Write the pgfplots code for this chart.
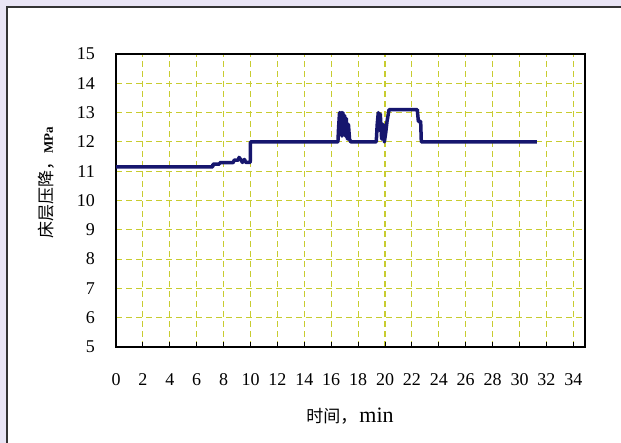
\documentclass[border=0pt]{standalone}
\usepackage{pgfplots}
\pgfplotsset{compat=1.18}
\usepackage{fontspec}
\setmainfont{Liberation Serif}
\newfontfamily\cjk{Noto Sans CJK SC}
\definecolor{bgl}{HTML}{E9E5F5}
\definecolor{gridc}{HTML}{C8CC30}
\definecolor{navy}{HTML}{16166E}
\pgfplotstableread{
x y
0 11.15
7.2 11.15
7.2 11.24
7.7 11.24
7.7 11.29
8.7 11.29
8.8 11.38
9.1 11.38
9.15 11.47
9.3 11.38
9.4 11.30
9.55 11.40
9.65 11.30
9.98 11.30
10.0 12.0
16.5 12.0
16.55 12.5
16.62 13.0
16.68 12.3
16.74 13.0
16.80 12.2
16.86 13.0
16.94 12.4
17.0 12.9
17.06 12.2
17.12 12.8
17.2 12.1
17.28 12.6
17.36 12.1
17.45 12.0
19.35 12.0
19.42 12.6
19.5 13.0
19.58 12.4
19.65 12.95
19.75 12.1
19.85 12.6
19.95 12.0
20.05 12.3
20.15 12.7
20.3 13.1
22.4 13.1
22.48 12.7
22.65 12.7
22.7 12.0
31.3 12.0
}\datatable
\begin{document}
\begin{tikzpicture}[x=1bp,y=1bp]
\useasboundingbox (0,0) rectangle (621,443);
\fill[bgl] (0,0) rectangle (621,443);
\fill[white] (7,0) rectangle (621,436);
\draw[line width=1.5bp, black!80] (7,0) -- (7,436) -- (621,436);
\begin{axis}[
  at={(116bp,96bp)}, anchor=south west,
  scale only axis, width=469bp, height=293bp,
  xmin=0, xmax=34.87, ymin=5, ymax=15,
  xtick={0,2,...,34}, ytick={5,6,...,15},
  /pgf/number format/assume math mode=true,
  grid=major,
  major grid style={gridc, line width=1.1bp, dash pattern=on 6bp off 4bp},
  axis line style={line width=1.6bp, black},
  tick align=inside,
  xtick pos=bottom, ytick pos=left,
  xtick style={black, line width=1bp},
  major tick length=5bp,
  ytick style={draw=none},
  xticklabel style={font=\fontsize{18bp}{18bp}\selectfont, anchor=base, inner sep=0pt, yshift=-38.5bp},
  yticklabel style={font=\fontsize{18bp}{18bp}\selectfont, anchor=east, inner sep=0pt, xshift=-21bp},
]
\addplot[navy, line width=3.5bp, line join=round, mark=none] table[x=x,y=y] {\datatable};
\end{axis}
\node[rotate=90, inner sep=0pt] at (46.7,260.5) {\cjk\fontsize{17bp}{17bp}\selectfont 床层压降，{\bfseries\rmfamily\fontsize{13bp}{13bp}\selectfont MPa}};
\node[inner sep=0pt] at (350,27) {\cjk\fontsize{17bp}{17bp}\selectfont 时间，\hspace{2bp}{\rmfamily\fontsize{22bp}{22bp}\selectfont min}};
\end{tikzpicture}
\end{document}
